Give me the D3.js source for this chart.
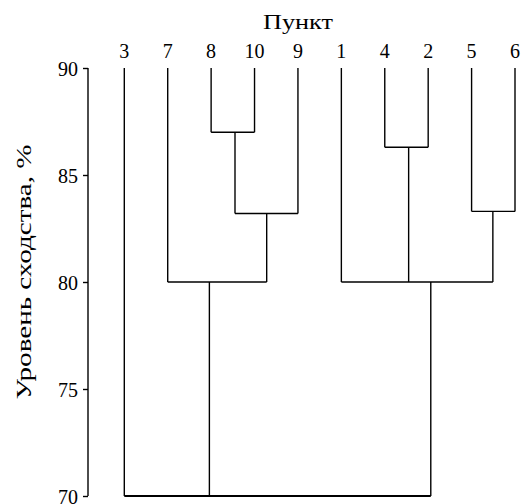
<!DOCTYPE html>
<html><head><meta charset="utf-8">
<script src="https://cdn.jsdelivr.net/npm/d3@7"></script>
<style>body{margin:0;background:#fff}svg{display:block}text{font-family:"Liberation Serif","DejaVu Serif",serif;fill:#000}</style>
</head><body>
<script>
const leaves = ["3","7","8","10","9","1","4","2","5","6"];
const leafLevel = 90;
// merges: children, similarity level (%), position of the stem in leaf-index units
const mergeIds = ["a","b","c","d","e","f","root"];
const mergeChildren = [["8","10"],["a","9"],["7","b"],["4","2"],["5","6"],["1","d","e"],["3","c","f"]];
const mergeLevels = [87.0, 83.2, 80.0, 86.3, 83.3, 80.0, 70.0];
const mergePos = [2.55, 3.28, 1.96, 6.55, 8.49, 7.06, 4.5];
const yTicks = [70,75,80,85,90];
const xTitle = "Пункт";
const yTitle = "Уровень сходства, %";

const W=521,H=504;
const svg=d3.select("body").append("svg").attr("width",W).attr("height",H);
const y=d3.scaleLinear().domain([70,90]).range([496,68]);
const xi=d3.scaleLinear().domain([0,leaves.length-1]).range([124.3,515]);

const nodes={};
leaves.forEach((l,i)=>nodes[l]={x:xi(i),level:leafLevel});
mergeIds.forEach((id,i)=>nodes[id]={x:xi(mergePos[i]),level:mergeLevels[i]});

const g=svg.append("g").attr("fill","none").attr("stroke","#000").attr("stroke-width",1.4);
mergeIds.forEach((id,i)=>{
  const kids=mergeChildren[i].map(c=>nodes[c]);
  const yl=y(mergeLevels[i]);
  const xs=kids.map(k=>k.x);
  g.append("line").attr("x1",d3.min(xs)).attr("x2",d3.max(xs)).attr("y1",yl).attr("y2",yl)
    .attr("stroke-width",id==="root"?2:1.4);
  kids.forEach(k=>{
    g.append("line").attr("x1",k.x).attr("x2",k.x).attr("y1",y(k.level)).attr("y2",yl);
  });
});

// y axis
const ax=svg.append("g").attr("transform","translate(88,0)")
  .call(d3.axisLeft(y).tickValues(yTicks).tickSize(5).tickPadding(5).tickFormat(d3.format("d")));
ax.select(".domain").attr("stroke","#000").attr("stroke-width",1.4).attr("d",`M0,${y(90)}V${y(70)}`);
ax.selectAll(".tick line").attr("stroke","#000").attr("stroke-width",1.4);
ax.selectAll(".tick text").attr("font-size",20).attr("font-family","Liberation Serif").attr("fill","#000").attr("dy","0.35em");

// leaf labels
svg.append("g").selectAll("text").data(leaves).join("text")
  .attr("x",(d,i)=>xi(i)).attr("y",58).attr("text-anchor","middle").attr("font-size",20).text(d=>d);

svg.append("text").attr("x",298).attr("y",29).attr("text-anchor","middle").attr("font-size",20)
  .attr("textLength",70).attr("lengthAdjust","spacingAndGlyphs").text(xTitle);
svg.append("text").attr("transform","translate(31,272) rotate(-90)").attr("text-anchor","middle").attr("font-size",20)
  .attr("textLength",255).attr("lengthAdjust","spacingAndGlyphs").text(yTitle);
</script>
</body></html>
